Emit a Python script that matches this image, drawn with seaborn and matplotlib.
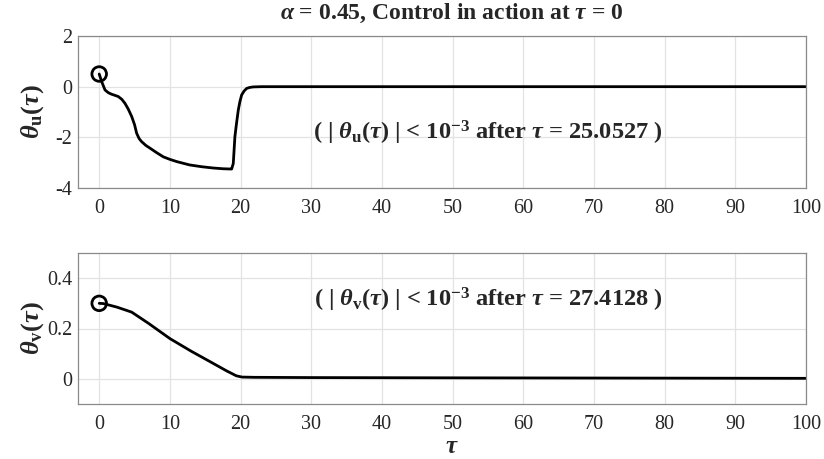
import numpy as np
import pandas as pd
import matplotlib
matplotlib.use("Agg")
import matplotlib.pyplot as plt
import seaborn as sns

tau_u = [0.0, 0.35, 0.82, 1.3, 1.77, 2.2, 2.7, 3.2, 3.65, 4.1, 4.6, 5.0, 5.3, 5.65, 6.0, 6.6, 7.2, 8.1, 9.07, 10.0, 11.0, 12.8,
         14.5, 16.1, 17.5, 18.5, 18.74, 18.97, 19.2, 19.45, 19.68, 19.9, 20.15, 20.5, 20.86, 21.3, 21.8, 23.0, 25.0, 40.0, 60.0, 80.0, 100.0]
theta_u = [0.5, 0.2, -0.13, -0.24, -0.3, -0.34, -0.39, -0.5, -0.66, -0.88, -1.18, -1.5, -1.84, -2.05, -2.17, -2.32, -2.43, -2.6, -2.77, -2.87, -2.96, -3.09,
           -3.16, -3.21, -3.24, -3.25, -3.25, -3.03, -1.97, -1.4, -0.92, -0.6, -0.33, -0.17, -0.07, -0.03, -0.01, 0.0, 0.0, 0.0, 0.0, 0.0, 0.0]
tau_v = [0.0, 0.6, 2.5, 4.6, 7.0, 10.0, 13.0, 15.7, 18.0, 19.4, 20.2, 22.0, 30.0, 50.0, 75.0, 100.0]
theta_v = [0.3, 0.299, 0.285, 0.265, 0.22, 0.16, 0.11, 0.068, 0.032, 0.012, 0.007, 0.006, 0.005, 0.004, 0.003, 0.002]
x_ticks = [0, 10, 20, 30, 40, 50, 60, 70, 80, 90, 100]
yticks_u = [-4, -2, 0, 2]
yticks_v = [0, 0.2, 0.4]

sns.set_theme(style="whitegrid")
plt.rcParams['font.family'] = ['Liberation Serif', 'DejaVu Serif']
plt.rcParams['mathtext.fontset'] = 'custom'
plt.rcParams['mathtext.rm'] = 'Liberation Serif:bold'
plt.rcParams['mathtext.bf'] = 'Liberation Serif:bold'
plt.rcParams['mathtext.it'] = 'Liberation Serif:italic:bold'

fig = plt.figure(figsize=(8.24, 4.59), dpi=100)
ax1 = fig.add_axes([78/824, 1-188/459, 728/824, 152/459])
ax2 = fig.add_axes([78/824, 1-404/459, 728/824, 151/459])

du = pd.DataFrame({'tau': tau_u, 'theta': theta_u})
dv = pd.DataFrame({'tau': tau_v, 'theta': theta_v})

for ax, d, yt, ylim in [(ax1, du, yticks_u, (-4, 2)), (ax2, dv, yticks_v, (-0.1, 0.5))]:
    sns.lineplot(data=d, x='tau', y='theta', ax=ax, color='black', linewidth=2.0, estimator=None, sort=False)
    sns.scatterplot(data=d.iloc[:1], x='tau', y='theta', ax=ax, s=110, facecolor='none', edgecolor='black', linewidth=2.0, zorder=5)
    ax.set_xlim(-3, 100)
    ax.set_ylim(*ylim)
    ax.set_xticks(x_ticks)
    ax.set_xticklabels([str(v) for v in x_ticks])
    ax.set_yticks(yt)
    ax.set_yticklabels([f"{v:g}" for v in yt])
    ax.grid(True, color='#e3e3e3', linewidth=0.9)
    for sp in ax.spines.values():
        sp.set_color('#8a8a8a')
        sp.set_linewidth(0.9)
    ax.tick_params(axis='both', labelsize=14.5, colors='#262626', length=4, direction='in', width=0.8)
    ax.tick_params(axis='x', pad=8)
    ax.tick_params(axis='y', pad=4)
    ax.set_xlabel('')

ax1.set_ylabel(r'$\it{\theta}_{\mathbf{u}}(\tau)$', fontsize=19)
ax2.set_ylabel(r'$\it{\theta}_{\mathbf{v}}(\tau)$', fontsize=19)
ax1.yaxis.set_label_coords(-0.044, 0.5)
ax2.yaxis.set_label_coords(-0.044, 0.5)
ax2.set_xlabel(r'$\tau$', fontsize=18)
ax2.xaxis.set_label_coords((452-78)/728, -0.215)

fig.text(452/824, 1-13/459, r'$\alpha$ = 0.45, Control in action at $\tau$ = 0',
         ha='center', va='center', fontsize=17, fontweight='bold')

ax1.text((488-78)/728, 0.36, r'( | $\theta_{\mathbf{u}}(\tau)$ | < 10$^{\mathbf{-3}}$ after $\tau$ = 25.0527 )',
         transform=ax1.transAxes, ha='center', va='center', fontsize=17.6, fontweight='bold')
ax2.text((488-78)/728, 0.69, r'( | $\theta_{\mathbf{v}}(\tau)$ | < 10$^{\mathbf{-3}}$ after $\tau$ = 27.4128 )',
         transform=ax2.transAxes, ha='center', va='center', fontsize=17.6, fontweight='bold')

fig.savefig('out.png', dpi=100)
